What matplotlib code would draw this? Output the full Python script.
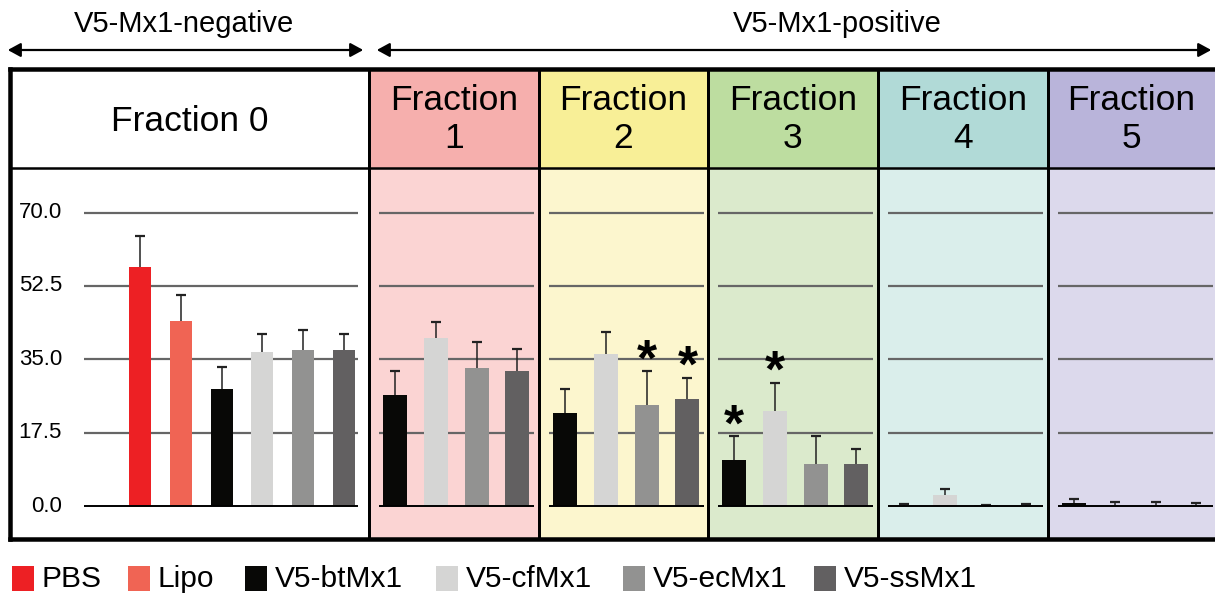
import matplotlib
matplotlib.use('Agg')
import matplotlib.pyplot as plt
from matplotlib.lines import Line2D
from matplotlib.patches import Rectangle, FancyArrowPatch

plt.rcParams['font.family'] = ['Liberation Sans', 'DejaVu Sans']

# legend groups and bar colours
groups = ['PBS', 'Lipo', 'V5-btMx1', 'V5-cfMx1', 'V5-ecMx1', 'V5-ssMx1']
colors = ['#ED2024', '#F06454', '#080806', '#D5D5D4', '#929291', '#626061']

frac_titles = ['Fraction 0', 'Fraction\n1', 'Fraction\n2', 'Fraction\n3', 'Fraction\n4', 'Fraction\n5']
head_colors = ['#FFFFFF', '#F6AFAD', '#F8EF97', '#BDDDA0', '#B1DAD7', '#B9B4DA']
body_colors = ['#FFFFFF', '#FBD4D3', '#FCF6CE', '#DBEACC', '#DAEEEB', '#DCD9EC']

# Fraction 0 has all six groups, fractions 1-5 only the V5 ones
frac0_vals = [57.1, 44.1, 28.0, 36.8, 37.2, 37.2]
frac0_err = [7.2, 6.2, 5.2, 4.3, 4.8, 3.9]
frac1_vals = [26.5, 40.0, 32.8, 32.3]
frac1_err = [5.7, 3.8, 6.2, 5.2]
frac2_vals = [22.1, 36.2, 24.0, 25.5]
frac2_err = [5.8, 5.2, 8.2, 5.1]
frac3_vals = [11.0, 22.6, 10.0, 10.0]
frac3_err = [5.7, 6.8, 6.8, 3.7]
frac4_vals = [0.1, 2.6, 0.2, 0.1]
frac4_err = [0.4, 1.4, 0.0, 0.4]
frac5_vals = [0.6, 0.1, 0.1, 0.1]
frac5_err = [1.0, 0.9, 0.9, 0.5]
frac2_star = [False, False, True, True]
frac3_star = [True, True, False, False]

yticks = [0.0, 17.5, 35.0, 52.5, 70.0]

all_vals = [frac0_vals, frac1_vals, frac2_vals, frac3_vals, frac4_vals, frac5_vals]
all_err = [frac0_err, frac1_err, frac2_err, frac3_err, frac4_err, frac5_err]
all_star = [None, None, frac2_star, frac3_star, None, None]

W, H = 1215, 597
fig = plt.figure(figsize=(W / 100, H / 100), dpi=100)

# layout in pixels
edges = [10, 369, 539, 708, 878, 1048, 1220]
head_top, head_bot, body_bot = 69, 168, 539
zero_px, top_px = 506, 212.5
ppu = (zero_px - top_px) / 70.0
spacing = 40.8


def add_ax(x0, y0, x1, y1):
    return fig.add_axes([x0 / W, 1 - y1 / H, (x1 - x0) / W, (y1 - y0) / H])


for i in range(6):
    x0, x1 = edges[i], edges[i + 1]
    # header
    hax = add_ax(x0, head_top, x1, head_bot)
    hax.set_facecolor(head_colors[i])
    hax.set_xticks([]); hax.set_yticks([])
    for s in hax.spines.values():
        s.set_visible(False)
    cx = 0.5 if i < 5 else (W - x0) / 2 / (x1 - x0)
    hax.text(cx, 0.47 if i == 0 else 0.49, frac_titles[i], transform=hax.transAxes,
             ha='center', va='center', fontsize=25.5, linespacing=1.2)

    # body
    ax = add_ax(x0, head_bot, x1, body_bot)
    ax.set_facecolor(body_colors[i])
    for s in ax.spines.values():
        s.set_visible(False)
    ax.set_xticks([]); ax.set_yticks([])
    vals = all_vals[i]
    errs = all_err[i]
    if i == 0:
        first = 130
        cols = colors
        width = 0.54
        g0, g1 = -1.37, 5.34
    else:
        first = 26
        cols = colors[2:]
        width = 0.59
        g0, g1 = -0.4, 3.4
    ax.set_xlim(-first / spacing, (x1 - x0 - first) / spacing)
    ax.set_ylim(-(body_bot - zero_px) / ppu, (zero_px - head_bot) / ppu)
    xs = list(range(len(vals)))
    tops = [v + e for v, e in zip(vals, errs)]
    ax.hlines(yticks[1:], g0, g1, colors='#666666', linewidth=1.6, zorder=1)
    ax.bar(xs, vals, width=width, color=cols, zorder=2)
    # upper error bars only
    ax.vlines(xs, vals, tops, colors='#222222', linewidth=1.1, zorder=3)
    ax.plot(xs, tops, linestyle='none', marker='_', markersize=7, markeredgewidth=1.6,
            color='#222222', zorder=3)
    ax.hlines(0, g0, g1, colors='black', linewidth=1.4, zorder=4)
    if i == 0:
        for t in yticks:
            ax.text(-1.91, t, f'{t:.1f}', ha='right', va='center', fontsize=16)
    stars = all_star[i]
    if stars:
        for x, t, s in zip(xs, tops, stars):
            if s:
                ax.text(x, t - 1.0, '*', ha='center', va='baseline',
                        fontsize=37, fontweight='bold')

# borders
lw3 = 3 * 72 / 100
lw4 = 4.5 * 72 / 100


def fline(xa, ya, xb, yb, lw):
    fig.add_artist(Line2D([xa / W, xb / W], [1 - ya / H, 1 - yb / H], color='black',
                          linewidth=lw, solid_capstyle='projecting'))


fline(edges[0], head_top, W + 5, head_top, lw4)
fline(edges[0], body_bot, W + 5, body_bot, lw4)
fline(edges[0], head_top, edges[0], body_bot, lw4)
fline(edges[0], head_bot, W + 5, head_bot, 2.5 * 72 / 100)
for e in edges[1:-1]:
    fline(e, head_top, e, body_bot, lw3)

# top arrows and labels
for xa, xb, tx, lab in [(5, 366, 184, 'V5-Mx1-negative'), (374, 1214, 837, 'V5-Mx1-positive')]:
    arr = FancyArrowPatch((xa / W, 1 - 50 / H), (xb / W, 1 - 50 / H), transform=fig.transFigure,
                          arrowstyle='<|-|>,head_length=0.55,head_width=0.3',
                          mutation_scale=14, color='black', linewidth=1.6)
    fig.add_artist(arr)
    fig.text(tx / W, 1 - 24 / H, lab, ha='center', va='center', fontsize=21)

# legend
leg_x = [12, 128, 245, 436, 623, 814]
for x, g, c in zip(leg_x, groups, colors):
    fig.add_artist(Rectangle((x / W, 1 - 591 / H), 22 / W, 25 / H, transform=fig.transFigure,
                             facecolor=c, edgecolor='none'))
    fig.text((x + 30) / W, 1 - 579 / H, g, ha='left', va='center', fontsize=21.5)

fig.savefig('out.png', dpi=100)
